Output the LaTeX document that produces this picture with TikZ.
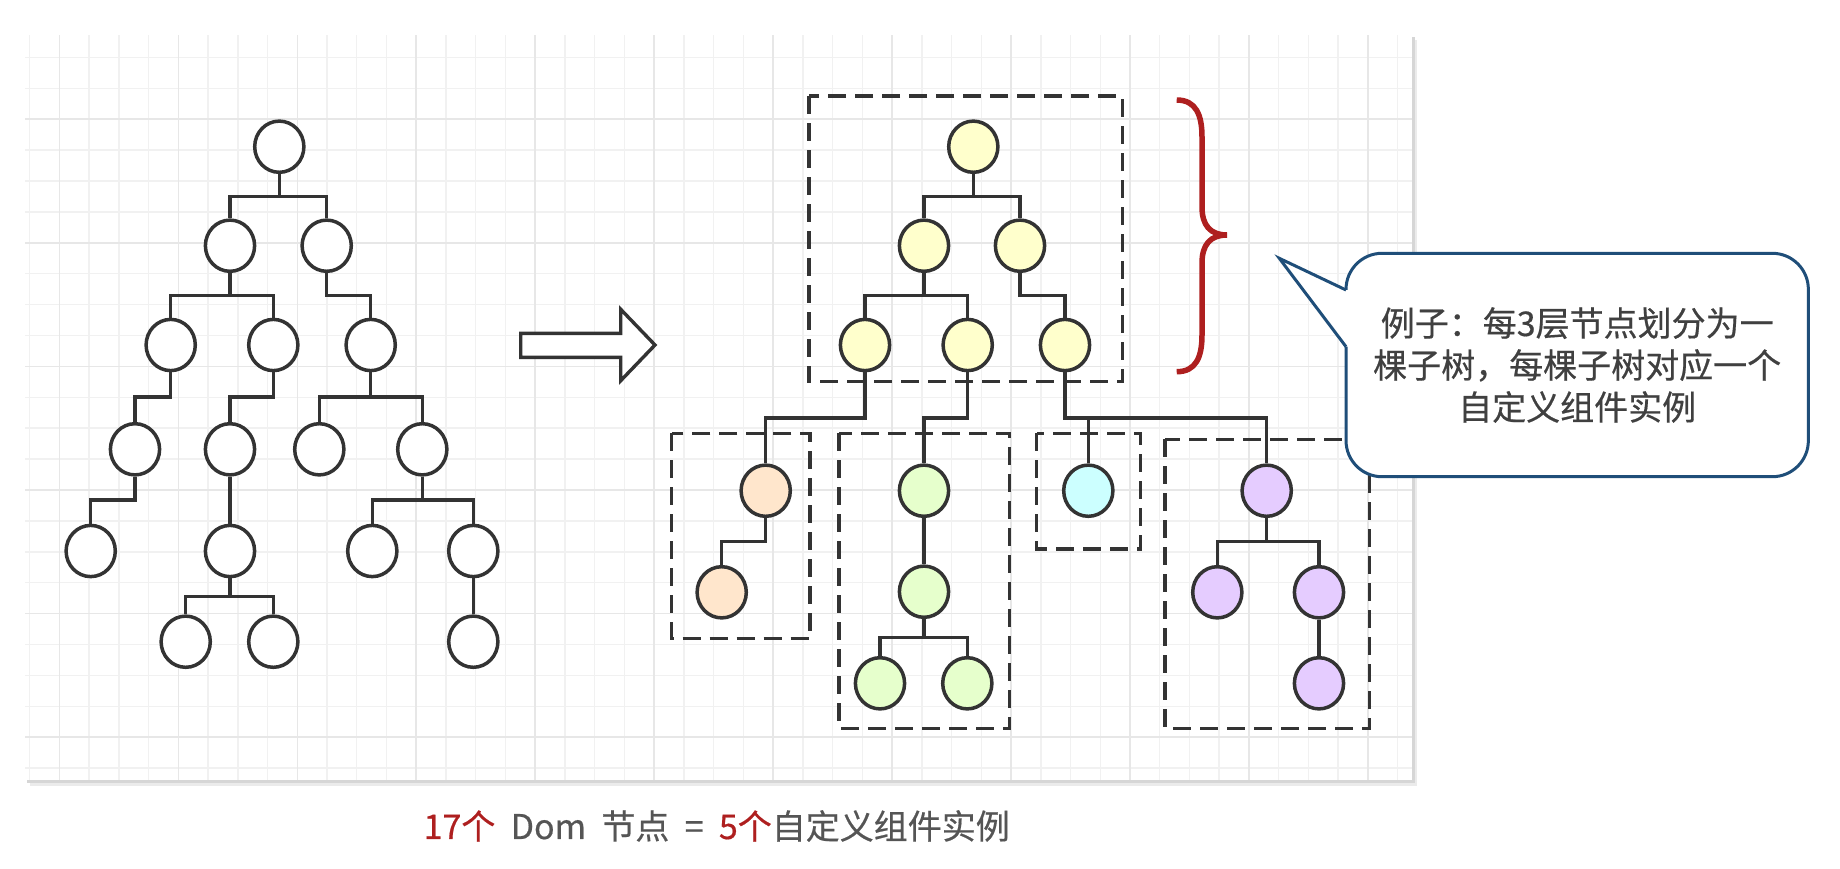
\documentclass[tikz,border=0pt]{standalone}
\usepackage{fontspec}
\setmainfont{Noto Sans CJK SC}[FakeBold=0.5]
\usepackage{xcolor}
\usetikzlibrary{shapes.geometric, calc}
\definecolor{mtrait}{HTML}{333333}
\definecolor{mgrille}{HTML}{F1F1F1}
\definecolor{mgrillef}{HTML}{E7E7E7}
\definecolor{mjaune}{HTML}{FFFFCC}
\definecolor{mpeche}{HTML}{FFE6CC}
\definecolor{mvert}{HTML}{E6FFCC}
\definecolor{mciel}{HTML}{CCFFFF}
\definecolor{mlilas}{HTML}{E5CCFF}
\definecolor{mrouge}{HTML}{AE1F1F}
\definecolor{mbleu}{HTML}{1F4E79}
\definecolor{mtexte}{HTML}{404040}
\definecolor{mgris}{HTML}{555555}
\tikzstyle{rond} = [ellipse, draw = mtrait, line width = 3.5, minimum width = 49.2, minimum height = 51.2, inner sep = 0]
\tikzstyle{lien} = [draw = mtrait, line width = 3.4, to path = {(\tikztostart) |- ($(\tikztostart)!0.5!(\tikztotarget)$) -| (\tikztotarget)}]
\tikzstyle{cadre} = [draw = mtrait, line width = 3.4, dash pattern = on 18pt off 9pt]
\tikzstyle{accolade} = [draw = mrouge, line width = 5.5]

\begin{document}
\begin{tikzpicture}[x = 1pt, y = -1pt, grille/.style = {draw = mgrille, line width = 1.5}, grillef/.style = {draw = mgrillef, line width = 1.5}, police/.style = {font = \fontsize{34}{42}\selectfont}]
    \useasboundingbox (0, 0) rectangle (1840, 868);
    % Feuille et ombre
    \fill[black!8] (30, 40) rectangle (1417, 786);
    \fill[black!16] (27, 37) rectangle (1414.5, 783);
    \fill[white] (25, 35) rectangle (1411.7, 780);
    % Grille
    \foreach \i in {0, ..., 46}
        \draw[grille] ({29.6 + 29.74*\i}, 35) -- ({29.6 + 29.74*\i}, 780);
    \foreach \j in {0, ..., 23}
        \draw[grille] (25, {57.4 + 30.9*\j}) -- (1411.7, {57.4 + 30.9*\j});
    \foreach \i in {1, 5, ..., 45}
        \draw[grillef] ({29.6 + 29.74*\i}, 35) -- ({29.6 + 29.74*\i}, 780);
    \foreach \j in {2, 6, ..., 22}
        \draw[grillef] (25, {57.4 + 30.9*\j}) -- (1411.7, {57.4 + 30.9*\j});
    % Arbre de gauche
    \foreach \nom/\x/\y in {a1/279.3/146.7, a2/230/245.7, a3/326.7/245.7, a4/170.7/345, a5/273.3/345, a6/370.7/345,
        a7/135/449.3, a8/230/449.3, a9/319.3/449.3, a10/422.3/449.3, a11/90.7/551, a12/230/551, a13/372.3/551,
        a14/473.3/551, a15/185.7/641.7, a16/273.3/641.7, a17/473.3/641.7}
        \node[rond, fill = white] (\nom) at (\x, \y) {};
    \foreach \p/\f in {a1/a2, a1/a3, a2/a4, a2/a5, a3/a6, a4/a7, a5/a8, a6/a9, a6/a10, a7/a11, a8/a12,
        a10/a13, a10/a14, a12/a15, a12/a16, a14/a17}
        \draw[lien] (\p.south) to (\f.north);
    % Fleche
    \draw[line width = 3.4, draw = mtrait, fill = white, line join = miter] (520.7, 333.3) -- (620.7, 333.3) -- (620.7, 309.3) -- (655, 345) -- (620.7, 380.7) -- (620.7, 357.3) -- (520.7, 357.3) -- cycle;
    % Sous-arbres
    \draw[cadre] (809, 96) rectangle (1122.3, 381.7);
    \draw[cadre] (671.7, 433.3) rectangle (810, 638.3);
    \draw[cadre] (839, 433.3) rectangle (1009.3, 728.3);
    \draw[cadre] (1036.7, 433.3) rectangle (1140.5, 549);
    \draw[cadre] (1165, 439.3) rectangle (1369.3, 728.3);
    % Arbre de droite
    \foreach \nom/\x/\y/\c in {b1/973.3/146.7/mjaune, b2/924/245.7/mjaune, b3/1020/245.7/mjaune, b4/865/345/mjaune,
        b5/967.7/345/mjaune, b6/1065/345/mjaune, b7/765.7/490.7/mpeche, b8/721.7/592.3/mpeche, b9/924/490.7/mvert,
        b10/924/591.7/mvert, b11/880/683.3/mvert, b12/967.3/683.3/mvert, b13/1088.3/490.7/mciel,
        b14/1266.7/490.7/mlilas, b15/1217.3/592.3/mlilas, b16/1319/592.3/mlilas, b17/1319/683.3/mlilas}
        \node[rond, fill = \c] (\nom) at (\x, \y) {};
    \foreach \p/\f in {b1/b2, b1/b3, b2/b4, b2/b5, b3/b6, b4/b7, b7/b8, b5/b9, b9/b10, b10/b11, b10/b12,
        b6/b13, b6/b14, b14/b15, b14/b16, b16/b17}
        \draw[lien] (\p.south) to (\f.north);
    % Accolade
    \draw[accolade] (1176.7, 100) .. controls (1196, 100) and (1202, 115) .. (1202, 137) -- (1202, 207) .. controls (1202, 225) and (1210, 235) .. (1227, 235) .. controls (1210, 235) and (1202, 245) .. (1202, 263) -- (1202, 335) .. controls (1202, 357) and (1196, 371.7) .. (1176.7, 371.7);
    % Bulle
    \node[draw = mbleu, line width = 3, fill = white, rounded corners = 36pt, minimum width = 462.3, minimum height = 223.4, inner sep = 0, align = center, text = mtexte, police] (bulle) at (1577.2, 365) {例子：每3层节点划分为一\\棵子树，每棵子树对应一个\\自定义组件实例};
    \coordinate (pointe) at (1279.3, 258.3);
    \coordinate (haut) at (1346, 290);
    \coordinate (bas) at (1346, 346.7);
    \fill[white] (haut) -- (pointe) -- (bas) -- ++(2.5, 0) -- ($(haut) + (2.5, 0)$) -- cycle;
    \draw[draw = mbleu, line width = 3, line join = miter] (haut) -- (pointe) -- (bas);
    % Legende
    \node[police, text = mgris] (legende) at (716.7, 826) {\textcolor{mrouge}{17个}\hspace{.45em}Dom\hspace{.45em}节点\hspace{.45em}=\hspace{.45em}\textcolor{mrouge}{5个}自定义组件实例};
\end{tikzpicture}
\end{document}
